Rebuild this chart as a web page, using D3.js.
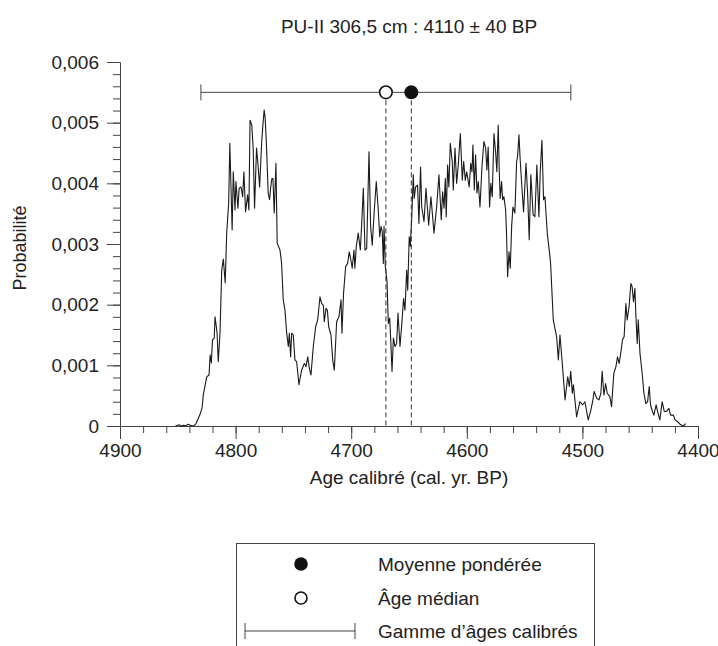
<!DOCTYPE html>
<html>
<head>
<meta charset="utf-8">
<script src="https://cdn.jsdelivr.net/npm/d3@7"></script>
<style>
  body { margin: 0; background: #fff; }
  svg { display: block; font-family: "Liberation Sans", Arial, sans-serif; }
</style>
</head>
<body>
<svg id="chart" width="718" height="646"></svg>
<script>
// calibrated age (cal. yr. BP) and probability
const ages = [
  4852, 4849, 4847, 4845, 4843, 4841, 4839, 4837, 4835, 4834,
  4831, 4829, 4828, 4825, 4823, 4822, 4821, 4820, 4818.5, 4817.8,
  4816, 4815, 4813.5, 4812, 4810.6, 4809, 4807.7, 4806, 4805, 4803,
  4802, 4800.5, 4799.7, 4798, 4796.9, 4795.3, 4793.9, 4792.8, 4791.4, 4789.6,
  4788.5, 4787.5, 4786, 4784.8, 4783.6, 4781.9, 4780.7, 4779.2, 4777.5, 4776.4,
  4775.3, 4774.4, 4773.2, 4771.8, 4770.6, 4769.7, 4768.6, 4767.7, 4766.6, 4765.1,
  4764, 4761.6, 4760.2, 4758.8, 4757.3, 4755.8, 4754.4, 4753.5, 4752.4, 4751.5,
  4750.1, 4748.7, 4747.2, 4745.2, 4742.9, 4740.6, 4739.1, 4737.6, 4736.2, 4734.8,
  4732.8, 4730.7, 4729, 4727, 4725.6, 4724.1, 4723.3, 4721.8, 4720.6, 4719.5,
  4717.5, 4716, 4714.6, 4712.6, 4710.6, 4708.8, 4708, 4706.6, 4704.8, 4703.1,
  4701.7, 4700.3, 4699.1, 4697.6, 4696.8, 4695.6, 4693.9, 4692.1, 4690.9, 4689.5,
  4688.1, 4686.6, 4684.6, 4683.2, 4681.8, 4680, 4678.3, 4676.6, 4675.3, 4674.2,
  4673.1, 4672.2, 4671.6, 4670.5, 4669, 4667.9, 4666.7, 4665.8, 4664.7, 4663.5,
  4662.1, 4660.7, 4659.5, 4657.8, 4656.4, 4654.7, 4653.5, 4652, 4651.1, 4649.8,
  4648.9, 4647.7, 4646.3, 4645.5, 4644.3, 4642.6, 4641.4, 4640, 4639, 4637,
  4635.3, 4633, 4631, 4628.4, 4626.1, 4624.1, 4622.1, 4620.9, 4619.7, 4618.6,
  4617.8, 4616.6, 4615.5, 4614.3, 4612.6, 4611.7, 4610.2, 4608.8, 4607.4, 4605.6,
  4603.9, 4602.7, 4601.3, 4600.1, 4598.7, 4597.9, 4596.6, 4595.5, 4594.7, 4593.5,
  4592.4, 4591.2, 4590.1, 4588.6, 4586.9, 4585.2, 4583.7, 4582.6, 4581.5, 4580.3,
  4579.2, 4578, 4576.5, 4575.1, 4574, 4572.8, 4571.9, 4571.1, 4569.9, 4569,
  4567.9, 4566.4, 4565.6, 4564.7, 4563.5, 4562.4, 4561.2, 4560.1, 4558.4, 4556.9,
  4556.1, 4554.9, 4553.8, 4552.3, 4550.9, 4548.8, 4547.4, 4546, 4544.6, 4542.6,
  4541.1, 4539.4, 4537.6, 4536.5, 4535, 4533.6, 4532.4, 4530.4, 4528.7, 4527.5,
  4525.2, 4522.3, 4520.8, 4519.4, 4517.4, 4515, 4512.7, 4511.3, 4510.1, 4508.7,
  4507.8, 4505, 4502.2, 4499.8, 4497.8, 4495, 4492.9, 4491.2, 4489.8, 4487.7,
  4485.7, 4484, 4482.9, 4481.4, 4479.9, 4478.5, 4476.2, 4474.8, 4472.8, 4471,
  4469.6, 4468.2, 4466.7, 4465.3, 4463.9, 4462.4, 4461.3, 4459.6, 4458.1, 4457,
  4455.8, 4454.6, 4453.8, 4452.6, 4451.7, 4450.2, 4448.3, 4446.8, 4445.1, 4443.6,
  4442.2, 4441.1, 4439.7, 4438.2, 4436.2, 4435, 4433, 4431, 4429.2, 4427.2,
  4425.2, 4423.7, 4421.4, 4419.7, 4417.6, 4415.6, 4412.8, 4410.7
];
const prob = [
  0, 0.00002, 0, 0.00001, 0, 0.00003, 0.00001, 0, 0.00002, 0.00005,
  0.00018, 0.0003, 0.00051, 0.00081, 0.00084, 0.00117, 0.00104, 0.00142, 0.00145, 0.0018,
  0.00153, 0.00106, 0.00153, 0.00257, 0.00275, 0.00236, 0.00318, 0.00367, 0.00466, 0.00323,
  0.00419, 0.00356, 0.00403, 0.00359, 0.00392, 0.00394, 0.00378, 0.00419, 0.00353, 0.00381,
  0.00356, 0.00504, 0.00496, 0.00458, 0.00359, 0.00458, 0.00433, 0.00394, 0.00466, 0.00496,
  0.00521, 0.00507, 0.00458, 0.00384, 0.00373, 0.00392, 0.00408, 0.00408, 0.00351, 0.00433,
  0.00301, 0.0029, 0.00268, 0.00208, 0.00191, 0.00153, 0.00131, 0.00153, 0.00114, 0.00153,
  0.0015, 0.00109, 0.00106, 0.00068, 0.00092, 0.00103, 0.00098, 0.00114, 0.00095, 0.00084,
  0.00131, 0.00164, 0.00175, 0.00213, 0.00202, 0.00199, 0.00172, 0.00194, 0.00191, 0.00164,
  0.0015, 0.00109, 0.00092, 0.00172, 0.0018, 0.00208, 0.00153, 0.00219, 0.00263, 0.00268,
  0.00287, 0.00274, 0.0026, 0.0029, 0.0026, 0.00296, 0.00318, 0.0029, 0.00334, 0.00392,
  0.0029, 0.00293, 0.00452, 0.00329, 0.00298, 0.00356, 0.00403, 0.00356, 0.00312, 0.00329,
  0.0032, 0.00268, 0.00329, 0.00263, 0.00238, 0.00169, 0.00178, 0.00142, 0.0009, 0.00145,
  0.00131, 0.00136, 0.00186, 0.00131, 0.00164, 0.0021, 0.00191, 0.00257, 0.00224, 0.00312,
  0.00296, 0.0034, 0.00414, 0.00375, 0.00394, 0.00397, 0.00334, 0.00427, 0.00361, 0.00337,
  0.00392, 0.00331, 0.00378, 0.00318, 0.00361, 0.00414, 0.0034, 0.00386, 0.00359, 0.00408,
  0.00345, 0.0043, 0.00394, 0.00466, 0.00436, 0.00389, 0.00458, 0.004, 0.0043, 0.00482,
  0.00405, 0.00436, 0.00405, 0.00419, 0.00403, 0.00394, 0.00433, 0.00419, 0.00463, 0.00389,
  0.00447, 0.00384, 0.00403, 0.00361, 0.00427, 0.00469, 0.00458, 0.00422, 0.0046, 0.00361,
  0.004, 0.00378, 0.00482, 0.00452, 0.00419, 0.00496, 0.00419, 0.00375, 0.00403, 0.00373,
  0.00378, 0.00356, 0.00315, 0.00246, 0.00287, 0.0026, 0.00329, 0.00361, 0.00351, 0.00436,
  0.00444, 0.0048, 0.00438, 0.00392, 0.00353, 0.00433, 0.00384, 0.00307, 0.00414, 0.00348,
  0.00345, 0.0043, 0.00345, 0.00419, 0.00471, 0.00373, 0.00378, 0.00318, 0.0029, 0.00268,
  0.00175, 0.00147, 0.00109, 0.0015, 0.00103, 0.00043, 0.00081, 0.00065, 0.0009, 0.00054,
  0.00068, 0.00015, 0.0004, 0.00035, 0.0004, 0.0001, 0.00024, 0.0004, 0.00057, 0.00046,
  0.00043, 0.00054, 0.0009, 0.00051, 0.0007, 0.00054, 0.00048, 0.00032, 0.00087, 0.00098,
  0.00114, 0.00103, 0.00122, 0.00142, 0.00147, 0.00202, 0.00175, 0.00197, 0.00235, 0.0023,
  0.00205, 0.00227, 0.00186, 0.00136, 0.00175, 0.0012, 0.00087, 0.00054, 0.00037, 0.0004,
  0.00065, 0.00035, 0.00026, 0.00018, 0.00035, 0.00024, 0.0001, 0.0004, 0.00024, 0.00024,
  0.00029, 0.00018, 0.00018, 0.0001, 0.00007, 0.00003, 0, 0.00004
];

const xTicks = [4900, 4800, 4700, 4600, 4500, 4400];
const yTicks = [0, 0.001, 0.002, 0.003, 0.004, 0.005, 0.006];
const yTickLabels = ['0', '0,001', '0,002', '0,003', '0,004', '0,005', '0,006'];

const meanAge = 4648;      // moyenne pondérée
const medianAge = 4670;    // âge médian
const ageRange = [4830, 4510];
const markerLevel = 0.0055;

const title = 'PU-II 306,5 cm : 4110 ± 40 BP';
const legendLabels = ['Moyenne pondérée', 'Âge médian', 'Gamme d’âges calibrés'];

const ink = '#222';
const svg = d3.select('#chart');

const x = d3.scaleLinear().domain([4900, 4400]).range([120, 698]);
const y = d3.scaleLinear().domain([0, 0.006]).range([426, 62]);

// minor ticks first, then the major ones with labels
svg.append('g')
  .attr('transform', 'translate(120,0)')
  .call(d3.axisLeft(y).ticks(30).tickSize(7).tickSizeOuter(0).tickFormat(''));
svg.append('g')
  .attr('transform', 'translate(0,426)')
  .call(d3.axisBottom(x).ticks(25).tickSize(7).tickSizeOuter(0).tickFormat(''));

const yAxis = svg.append('g')
  .attr('transform', 'translate(120,0)')
  .call(d3.axisLeft(y).tickValues(yTicks).tickSize(13).tickSizeOuter(0).tickPadding(8)
    .tickFormat((d, i) => yTickLabels[i]));
const xAxis = svg.append('g')
  .attr('transform', 'translate(0,426)')
  .call(d3.axisBottom(x).tickValues(xTicks).tickSize(13).tickSizeOuter(0).tickPadding(5)
    .tickFormat(d3.format('d')));

svg.selectAll('.domain, .tick line').attr('stroke', '#444').attr('stroke-width', 1);
[yAxis, xAxis].forEach(g => g.selectAll('text')
  .attr('font-size', 19).attr('fill', ink)
  .attr('font-family', '"Liberation Sans", Arial, sans-serif'));

// probability curve
const line = d3.line().x((d, i) => x(ages[i])).y(d => y(d));
svg.append('path')
  .datum(prob)
  .attr('d', line)
  .attr('fill', 'none')
  .attr('stroke', '#1a1a1a')
  .attr('stroke-width', 1.1)
  .attr('stroke-linejoin', 'round');

// dashed drop lines for mean and median
svg.selectAll('.drop')
  .data([medianAge, meanAge])
  .join('line')
  .attr('x1', d => x(d)).attr('x2', d => x(d))
  .attr('y1', y(markerLevel)).attr('y2', y(0))
  .attr('stroke', '#333').attr('stroke-dasharray', '5,3');

// calibrated range bar
const yb = y(markerLevel);
svg.append('line')
  .attr('x1', x(ageRange[0])).attr('x2', x(ageRange[1]))
  .attr('y1', yb).attr('y2', yb)
  .attr('stroke', '#444');
svg.selectAll('.cap')
  .data(ageRange)
  .join('line')
  .attr('x1', d => x(d)).attr('x2', d => x(d))
  .attr('y1', yb - 8).attr('y2', yb + 8)
  .attr('stroke', '#444');

svg.append('circle').attr('cx', x(medianAge)).attr('cy', yb).attr('r', 6.3)
  .attr('fill', '#fff').attr('stroke', '#111').attr('stroke-width', 1.6);
svg.append('circle').attr('cx', x(meanAge)).attr('cy', yb).attr('r', 7)
  .attr('fill', '#111');

// title and axis titles
svg.append('text').attr('x', 409).attr('y', 33).attr('text-anchor', 'middle')
  .attr('font-size', 19).attr('fill', ink).text(title);
svg.append('text').attr('x', 409).attr('y', 484).attr('text-anchor', 'middle')
  .attr('font-size', 19).attr('fill', ink).text('Age calibré (cal. yr. BP)');
svg.append('text').attr('transform', 'translate(26,248) rotate(-90)')
  .attr('text-anchor', 'middle').attr('font-size', 18).attr('fill', ink)
  .text('Probabilité');

// legend
const lg = svg.append('g');
lg.append('rect').attr('x', 236.5).attr('y', 543.5).attr('width', 358).attr('height', 130)
  .attr('fill', 'none').attr('stroke', '#444');
const rowY = [564, 598, 631];
lg.append('circle').attr('cx', 301).attr('cy', rowY[0]).attr('r', 6.8).attr('fill', '#111');
lg.append('circle').attr('cx', 301).attr('cy', rowY[1]).attr('r', 6)
  .attr('fill', '#fff').attr('stroke', '#111').attr('stroke-width', 1.6);
lg.append('line').attr('x1', 245).attr('x2', 355).attr('y1', rowY[2]).attr('y2', rowY[2])
  .attr('stroke', '#444');
[245, 355].forEach(cx => lg.append('line').attr('x1', cx).attr('x2', cx)
  .attr('y1', rowY[2] - 8).attr('y2', rowY[2] + 8).attr('stroke', '#444'));
lg.selectAll('.lbl')
  .data(legendLabels)
  .join('text')
  .attr('x', 378).attr('y', (d, i) => rowY[i]).attr('dy', '0.35em')
  .attr('font-size', 19).attr('fill', ink)
  .text(d => d);
</script>
</body>
</html>
